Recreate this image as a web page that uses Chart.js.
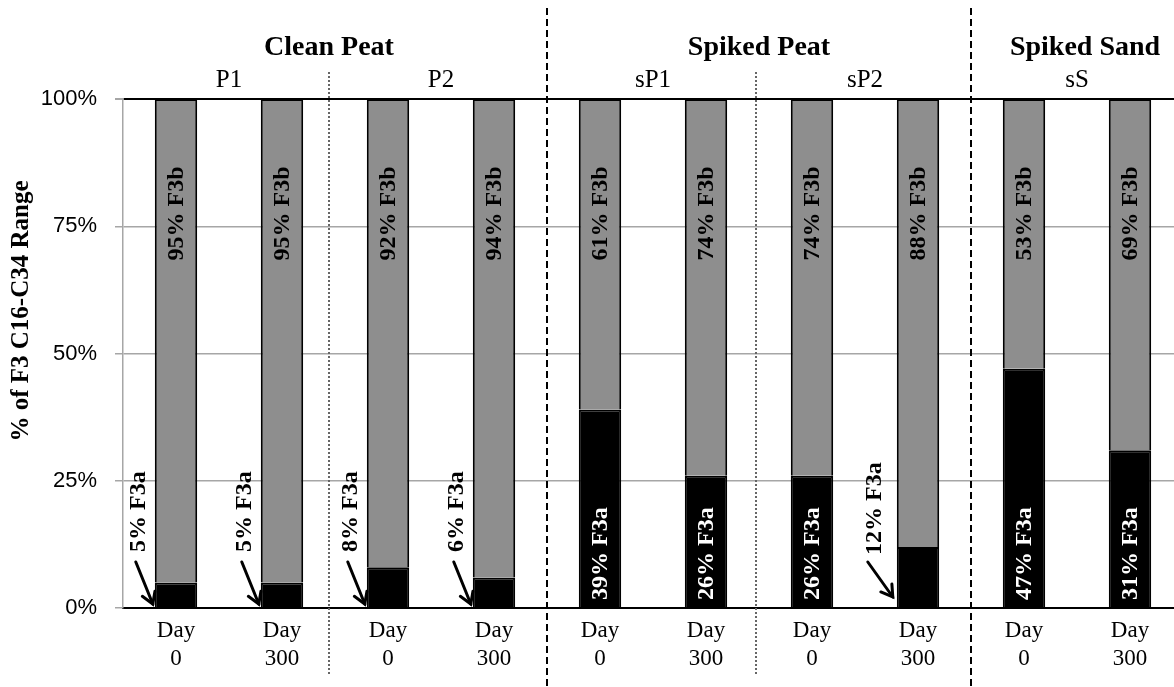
<!DOCTYPE html>
<html>
<head>
<meta charset="utf-8">
<script src="https://cdn.jsdelivr.net/npm/chart.js@4"></script>
<style>
  html, body { margin: 0; padding: 0; background: #fff; overflow: hidden; }
  #wrap { width: 1190px; height: 687px; }
</style>
</head>
<body>
<div id="wrap"><canvas id="chart" width="1190" height="687"></canvas></div>
<script>
// ============ Data ============
const dayLabels = [
  ['Day', '0'], ['Day', '300'], ['Day', '0'], ['Day', '300'],
  ['Day', '0'], ['Day', '300'], ['Day', '0'], ['Day', '300'],
  ['Day', '0'], ['Day', '300'],
];
const f3aValues = [5, 5, 8, 6, 39, 26, 26, 12, 47, 31];
const f3bValues = [95, 95, 92, 94, 61, 74, 74, 88, 53, 69];
const sampleNames = ['P1', 'P2', 'sP1', 'sP2', 'sS'];
const groupNames = ['Clean Peat', 'Spiked Peat', 'Spiked Sand'];
const groupFirst = [0, 4, 8];
const groupLast = [3, 7, 9];
const yTicks = [0, 25, 50, 75, 100];

const SERIF = '"Liberation Serif", "Times New Roman", serif';
const SANS = '"Liberation Sans", Arial, sans-serif';

// ============ Decorations ============
function drawArrow(ctx, x1, y1, x2, y2) {
  const ang = Math.atan2(y2 - y1, x2 - x1);
  ctx.beginPath();
  ctx.moveTo(x1, y1);
  ctx.lineTo(x2, y2);
  ctx.stroke();
  const h = 13;
  ctx.beginPath();
  ctx.moveTo(x2 - h * Math.cos(ang - 0.55), y2 - h * Math.sin(ang - 0.55));
  ctx.lineTo(x2, y2);
  ctx.lineTo(x2 - h * Math.cos(ang + 0.55), y2 - h * Math.sin(ang + 0.55));
  ctx.stroke();
}

function vText(ctx, text, x, y, align) {
  ctx.save();
  ctx.translate(x, y);
  ctx.rotate(-Math.PI / 2);
  ctx.textAlign = align;
  ctx.textBaseline = 'middle';
  ctx.fillText(text, 0, 0);
  ctx.restore();
}

const decorPlugin = {
  id: 'decor',
  afterDraw(chart) {
    const ctx = chart.ctx;
    const xs = chart.scales.x;
    const ys = chart.scales.y;
    const base = ys.getPixelForValue(0);

    // group separators
    ctx.save();
    ctx.strokeStyle = '#000';
    ctx.lineWidth = 2;
    ctx.setLineDash([7, 4]);
    [3.5, 7.5].forEach(v => {
      const x = Math.round(xs.getPixelForValue(v));
      ctx.beginPath();
      ctx.moveTo(x, 8);
      ctx.lineTo(x, 687);
      ctx.stroke();
    });
    ctx.strokeStyle = '#666';
    ctx.setLineDash([2, 2]);
    [[1.5, -6], [5.5, -3]].forEach(([v, dx]) => {
      const x = Math.round(xs.getPixelForValue(v)) + dx;
      ctx.beginPath();
      ctx.moveTo(x, 72);
      ctx.lineTo(x, 676);
      ctx.stroke();
    });
    ctx.restore();

    // headers
    ctx.save();
    ctx.fillStyle = '#000';
    ctx.textAlign = 'center';
    ctx.textBaseline = 'alphabetic';
    ctx.font = 'bold 28px ' + SERIF;
    const headerDx = [-6, 0, 8];
    groupNames.forEach((name, i) => {
      const x = xs.getPixelForValue((groupFirst[i] + groupLast[i]) / 2) + headerDx[i];
      ctx.fillText(name, x, 55);
    });
    ctx.font = '25px ' + SERIF;
    sampleNames.forEach((name, i) => {
      ctx.fillText(name, xs.getPixelForValue(i * 2 + 0.5), 87);
    });
    ctx.restore();

    // y axis title
    ctx.save();
    ctx.fillStyle = '#000';
    ctx.font = 'bold 25px ' + SERIF;
    vText(ctx, '% of F3 C16-C34 Range', 22, 311, 'center');
    ctx.restore();

    // bar labels
    const metaA = chart.getDatasetMeta(0);
    const metaB = chart.getDatasetMeta(1);
    ctx.save();
    ctx.font = 'bold 24px ' + SERIF;
    metaB.data.forEach((bar, i) => {
      ctx.fillStyle = '#000';
      vText(ctx, f3bValues[i] + '% F3b', bar.x + 1, ys.getPixelForValue(77.5), 'center');
    });
    metaA.data.forEach((bar, i) => {
      const v = f3aValues[i];
      const left = bar.x - bar.width / 2;
      if (v >= 20) {
        ctx.fillStyle = '#fff';
        vText(ctx, v + '% F3a', bar.x + 1, base - 8, 'left');
      } else {
        ctx.fillStyle = '#000';
        ctx.strokeStyle = '#000';
        ctx.lineWidth = 3;
        ctx.lineCap = 'round';
        if (v >= 10) {
          vText(ctx, v + '% F3a', left - 22, base - 53, 'left');
          drawArrow(ctx, left - 29, base - 46, left - 4, base - 11);
        } else {
          vText(ctx, v + '% F3a', left - 16, base - 56, 'left');
          drawArrow(ctx, left - 19, base - 46, left - 2, base - 4);
        }
      }
    });
    ctx.restore();
  }
};

// ============ Chart ============
const ctx = document.getElementById('chart').getContext('2d');
new Chart(ctx, {
  type: 'bar',
  data: {
    labels: dayLabels,
    datasets: [
      {
        label: 'F3a',
        data: f3aValues,
        backgroundColor: '#000',
        borderColor: '#000',
        borderWidth: 2,
      },
      {
        label: 'F3b',
        data: f3bValues,
        backgroundColor: '#8e8e8e',
        borderColor: '#000',
        borderWidth: 2,
      },
    ],
  },
  options: {
    responsive: false,
    animation: false,
    devicePixelRatio: 1,
    layout: { padding: { top: 99, right: 7, left: 0, bottom: 0 } },
    datasets: { bar: { barPercentage: 0.4, categoryPercentage: 1 } },
    plugins: {
      legend: { display: false },
      tooltip: { enabled: false },
    },
    scales: {
      x: {
        stacked: true,
        grid: { display: false, drawTicks: false },
        border: { color: '#000', width: 2 },
        ticks: {
          color: '#000',
          font: { family: SERIF, size: 23, lineHeight: '28px' },
          padding: 9,
          maxRotation: 0,
          autoSkip: false,
        },
        afterFit(scale) { scale.height = 79; },
      },
      y: {
        stacked: true,
        min: 0,
        max: 100,
        afterBuildTicks(scale) { scale.ticks = yTicks.map(v => ({ value: v })); },
        grid: {
          color: c => (c.tick && c.tick.value === 100 ? '#000' : '#a6a6a6'),
          lineWidth: c => (c.tick && c.tick.value === 100 ? 2 : 1.5),
          tickColor: '#a6a6a6',
          tickLength: 8,
        },
        border: { color: '#a6a6a6', width: 1.5 },
        ticks: {
          color: '#000',
          font: { family: SANS, size: 22 },
          padding: 18,
          callback: v => v + '%',
        },
        afterFit(scale) { scale.width = 123; },
      },
    },
  },
  plugins: [decorPlugin],
});
</script>
</body>
</html>
